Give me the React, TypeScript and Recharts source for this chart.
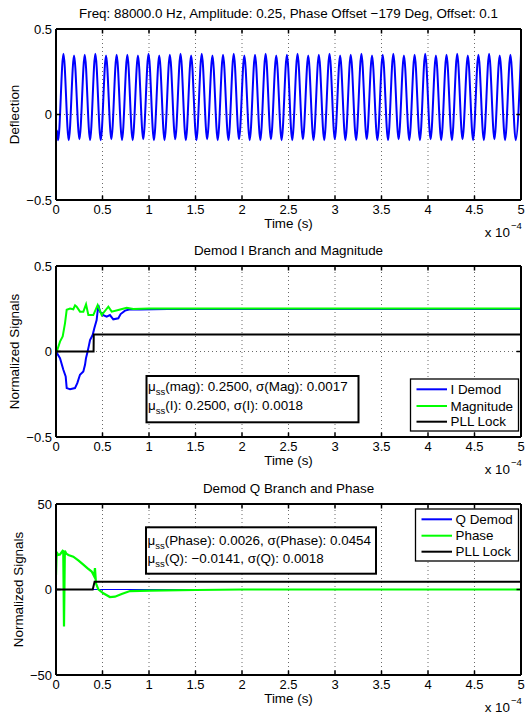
import React from 'react';
import { LineChart, Line, XAxis, YAxis, ReferenceLine } from 'recharts';

const FONT = '"Liberation Sans", Arial, Helvetica, sans-serif';

// ---------- ticks ----------
const timeTicks = [0, 0.5, 1, 1.5, 2, 2.5, 3, 3.5, 4, 4.5, 5];
const timeTickLabels = ['0', '0.5', '1', '1.5', '2', '2.5', '3', '3.5', '4', '4.5', '5'];
const deflectionTicks = [-0.5, 0, 0.5];
const deflectionTickLabels = ['\u22120.5', '0', '0.5'];
const iBranchTicks = [-0.5, 0, 0.5];
const iBranchTickLabels = ['\u22120.5', '0', '0.5'];
const qBranchTicks = [-50, 0, 50];
const qBranchTickLabels = ['\u221250', '0', '50'];

// ---------- texts ----------
const titles = [
  'Freq: 88000.0 Hz,  Amplitude: 0.25, Phase Offset \u2212179 Deg, Offset: 0.1',
  'Demod I Branch and Magnitude',
  'Demod Q Branch and Phase',
];
const yLabels = ['Deflection', 'Normalized Signals', 'Normalized Signals'];
const xLabel = 'Time (s)';
const iLegendNames = ['I Demod', 'Magnitude', 'PLL Lock'];
const qLegendNames = ['Q Demod', 'Phase', 'PLL Lock'];
const iStatsLines = [
  ['(mag): 0.2500, \u03c3(Mag): 0.0017'],
  ['(I): 0.2500, \u03c3(I): 0.0018'],
];
const qStatsLines = [
  ['(Phase): 0.0026, \u03c3(Phase): 0.0454'],
  ['(Q): \u22120.0141, \u03c3(Q): 0.0018'],
];

// ---------- data (time in units of 1e-4 s) ----------
const deflectionT = [
  0, 0.012, 0.023, 0.080, 0.137, 0.194, 0.252, 0.309, 0.366, 0.423, 0.481, 0.538, 0.595, 0.652, 0.710, 0.767,
  0.824, 0.881, 0.938, 0.995, 1.053, 1.110, 1.167, 1.224, 1.282, 1.339, 1.396, 1.453, 1.510, 1.567, 1.625,
  1.682, 1.739, 1.796, 1.854, 1.911, 1.968, 2.025, 2.083, 2.140, 2.197, 2.254, 2.311, 2.368, 2.426, 2.483,
  2.540, 2.597, 2.655, 2.712, 2.769, 2.826, 2.884, 2.941, 2.998, 3.055, 3.112, 3.169, 3.227, 3.284, 3.341,
  3.398, 3.456, 3.513, 3.570, 3.627, 3.684, 3.741, 3.799, 3.856, 3.913, 3.970, 4.028, 4.085, 4.142, 4.199,
  4.257, 4.314, 4.371, 4.428, 4.485, 4.542, 4.600, 4.657, 4.714, 4.771, 4.829, 4.886, 4.943, 5.000,
];
const deflectionV = [
  -0.09, -0.1, -0.15, 0.355, -0.15, 0.345, -0.145, 0.35, -0.15, 0.355, -0.15, 0.345, -0.145, 0.35, -0.15, 0.35,
  -0.15, 0.345, -0.145, 0.355, -0.15, 0.345, -0.15, 0.35, -0.145, 0.355, -0.15, 0.345, -0.15, 0.355, -0.145,
  0.345, -0.15, 0.35, -0.15, 0.355, -0.145, 0.345, -0.15, 0.35, -0.15, 0.355, -0.145, 0.345, -0.15, 0.35,
  -0.15, 0.355, -0.145, 0.345, -0.15, 0.35, -0.15, 0.355, -0.145, 0.345, -0.15, 0.35, -0.15, 0.355, -0.145,
  0.345, -0.15, 0.35, -0.15, 0.355, -0.145, 0.345, -0.15, 0.35, -0.15, 0.355, -0.145, 0.345, -0.15, 0.35,
  -0.15, 0.355, -0.145, 0.345, -0.15, 0.35, -0.15, 0.355, -0.145, 0.345, -0.15, 0.35, -0.15, 0.355,
];

const iDemodT = [0, 0.043, 0.079, 0.104, 0.115, 0.151, 0.204, 0.229, 0.258, 0.294, 0.312, 0.322, 0.34, 0.352, 0.366, 0.394, 0.412, 0.437, 0.455, 0.473, 0.509, 0.545, 0.58, 0.616, 0.67, 0.695, 0.742, 0.796, 0.9, 1.2, 5];
const iDemodV = [0, -0.039, -0.107, -0.146, -0.214, -0.22, -0.214, -0.185, -0.136, -0.117, -0.078, -0.04, 0.0, 0.03, 0.067, 0.096, 0.136, 0.184, 0.272, 0.233, 0.213, 0.204, 0.213, 0.188, 0.194, 0.219, 0.239, 0.247, 0.246, 0.248, 0.248];

const magnitudeT = [0, 0.014, 0.043, 0.072, 0.097, 0.115, 0.151, 0.186, 0.205, 0.222, 0.258, 0.294, 0.323, 0.348, 0.401, 0.448, 0.491, 0.563, 0.599, 0.67, 0.76, 0.831, 1.0, 5];
const magnitudeV = [0, 0.009, 0.058, 0.088, 0.166, 0.244, 0.251, 0.247, 0.27, 0.262, 0.233, 0.233, 0.276, 0.213, 0.213, 0.272, 0.213, 0.262, 0.233, 0.243, 0.256, 0.248, 0.252, 0.252];

const pllLockIT = [0, 0.404, 0.406, 5];
const pllLockIV = [0, 0, 0.1, 0.1];

const qDemodT = [0, 5];
const qDemodV = [0, 0];

const phaseT = [0, 0.007, 0.022, 0.043, 0.072, 0.078, 0.086, 0.095, 0.11, 0.133, 0.186, 0.24, 0.294, 0.337, 0.384, 0.409, 0.419, 0.43, 0.455, 0.509, 0.58, 0.634, 0.706, 0.796, 1.01, 1.5, 2.0, 5];
const phaseV = [8.5, 22, 20.2, 20.5, 22.7, 22.5, -21.7, 22.7, 21, 20.2, 19.2, 17, 14.5, 12.5, 10.5, 7.9, 12.5, 3.6, 0.1, -2.2, -4.4, -4.2, -2.6, -0.9, -0.6, -0.3, 0, 0];

const pllLockQT = [0, 0.395, 0.415, 5];
const pllLockQV = [0, 0, 4.6, 4.6];

const zip = (ts: number[], vs: number[]) => ts.map((t, i) => ({ t, v: vs[i] }));

// ---------- layout ----------
const W = 526;
const PLOT_LEFT = 56;
const PLOT_RIGHT = 521;
const PLOT_W = PLOT_RIGHT - PLOT_LEFT;
const PLOT_H = 171;
const MARGIN_TOP = 29;
const CHART_H = 236;
const chartTops = [0, 237, 475];
const BLUE = '#0000ff';
const GREEN = '#00ff00';
const BLACK = '#000000';

type Series = { name: string; color: string; width?: number; data: { t: number; v: number }[] };

function Subplot({ top, yTicks, yTickLabels, series, curve }: { top: number; yTicks: number[]; yTickLabels: string[]; series: Series[]; curve: 'monotone' | 'linear' }) {
  const yMin = yTicks[0];
  const yMax = yTicks[yTicks.length - 1];
  const tMin = timeTicks[0];
  const tMax = timeTicks[timeTicks.length - 1];
  const tickLenY = ((yMax - yMin) * 4.5) / PLOT_H;
  const tickLenX = ((tMax - tMin) * 4.5) / PLOT_W;
  const innerT = timeTicks.slice(1, -1);
  const innerY = yTicks.slice(1, -1);
  const tickStyle = { fill: '#000', fontSize: 13, fontFamily: FONT };
  return (
    <div style={{ position: 'absolute', left: 0, top, width: W, height: CHART_H }}>
      <LineChart width={W} height={CHART_H} margin={{ top: MARGIN_TOP, right: W - PLOT_RIGHT, bottom: 0, left: 0 }}>
        <XAxis
          dataKey="t"
          type="number"
          domain={[tMin, tMax]}
          ticks={timeTicks}
          allowDataOverflow
          interval={0}
          height={CHART_H - MARGIN_TOP - PLOT_H}
          tickLine={false}
          tickSize={0}
          tickMargin={5}
          axisLine={{ stroke: '#000', strokeWidth: 2 }}
          tick={tickStyle}
          tickFormatter={(v: number) => timeTickLabels[timeTicks.indexOf(v)]}
        />
        <YAxis
          type="number"
          domain={[yMin, yMax]}
          ticks={yTicks}
          allowDataOverflow
          interval={0}
          width={PLOT_LEFT}
          tickLine={false}
          tickSize={0}
          tickMargin={4}
          axisLine={{ stroke: '#000', strokeWidth: 2 }}
          tick={tickStyle}
          tickFormatter={(v: number) => yTickLabels[yTicks.indexOf(v)]}
        />
        {innerT.map((x) => (
          <ReferenceLine key={'gx' + x} x={x} stroke="#6a6a6a" strokeWidth={1} strokeDasharray="1 3" />
        ))}
        {innerY.map((y) => (
          <ReferenceLine key={'gy' + y} y={y} stroke="#6a6a6a" strokeWidth={1} strokeDasharray="1 3" />
        ))}
        {series.map((s) => (
          <Line key={s.name} data={s.data} dataKey="v" name={s.name} stroke={s.color} strokeWidth={s.width ?? 2} dot={false} activeDot={false} isAnimationActive={false} type={curve} />
        ))}
        <ReferenceLine x={tMax} stroke="#000" strokeWidth={2} />
        <ReferenceLine y={yMax} stroke="#000" strokeWidth={2} />
        {innerT.map((x) => (
          <ReferenceLine key={'tb' + x} segment={[{ x, y: yMin }, { x, y: yMin + tickLenY }]} stroke="#000" strokeWidth={1.5} />
        ))}
        {innerT.map((x) => (
          <ReferenceLine key={'tt' + x} segment={[{ x, y: yMax }, { x, y: yMax - tickLenY }]} stroke="#000" strokeWidth={1.5} />
        ))}
        {innerY.map((y) => (
          <ReferenceLine key={'tl' + y} segment={[{ x: tMin, y }, { x: tMin + tickLenX, y }]} stroke="#000" strokeWidth={1.5} />
        ))}
        {innerY.map((y) => (
          <ReferenceLine key={'tr' + y} segment={[{ x: tMax, y }, { x: tMax - tickLenX, y }]} stroke="#000" strokeWidth={1.5} />
        ))}
      </LineChart>
    </div>
  );
}

const FS = 13.4;
const BASE = 4.7; // baseline offset from visual centre

function Legend({ x, y, w, h, rows, names, colors }: { x: number; y: number; w: number; h: number; rows: number[]; names: string[]; colors: string[] }) {
  return (
    <g>
      <rect x={x} y={y} width={w} height={h} fill="#fff" stroke="#000" strokeWidth={1.3} />
      {names.map((n, i) => (
        <g key={n + i}>
          <line x1={x + 6} x2={x + 36.5} y1={y + rows[i]} y2={y + rows[i]} stroke={colors[i]} strokeWidth={2} />
          <text x={x + 40} y={y + rows[i] + BASE} fontSize={FS} fontFamily={FONT} fill="#000">{n}</text>
        </g>
      ))}
    </g>
  );
}

function StatsBox({ x, y, w, h, rows, lines }: { x: number; y: number; w: number; h: number; rows: number[]; lines: string[][] }) {
  return (
    <g>
      <rect x={x} y={y} width={w} height={h} fill="#fff" stroke="#000" strokeWidth={2} />
      {lines.map((l, i) => (
        <text key={i} x={x + 1.5} y={y + rows[i] + BASE} fontSize={FS} fontFamily={FONT} fill="#000">
          {'\u03bc'}
          <tspan fontSize={9.5} dy={4}>ss</tspan>
          <tspan dy={-4}>{l[0]}</tspan>
        </text>
      ))}
    </g>
  );
}

export default function App() {
  const plotTops = chartTops.map((t) => t + MARGIN_TOP);
  const yLabelX = [14, 14.5, 18];
  const cx = (PLOT_LEFT + PLOT_RIGHT) / 2;
  return (
    <div style={{ position: 'absolute', left: 0, top: 0, width: W, height: 715, background: '#fff', overflow: 'hidden' }}>
      <Subplot
        top={chartTops[0]}
        yTicks={deflectionTicks}
        yTickLabels={deflectionTickLabels}
        curve="monotone"
        series={[{ name: 'Deflection', color: BLUE, data: zip(deflectionT, deflectionV) }]}
      />
      <Subplot
        top={chartTops[1]}
        yTicks={iBranchTicks}
        yTickLabels={iBranchTickLabels}
        curve="linear"
        series={[
          { name: iLegendNames[0], color: BLUE, data: zip(iDemodT, iDemodV) },
          { name: iLegendNames[1], color: GREEN, data: zip(magnitudeT, magnitudeV) },
          { name: iLegendNames[2], color: BLACK, data: zip(pllLockIT, pllLockIV) },
        ]}
      />
      <Subplot
        top={chartTops[2]}
        yTicks={qBranchTicks}
        yTickLabels={qBranchTickLabels}
        curve="linear"
        series={[
          { name: qLegendNames[0], color: BLUE, width: 1.2, data: zip(qDemodT, qDemodV) },
          { name: qLegendNames[1], color: GREEN, width: 2.2, data: zip(phaseT, phaseV) },
          { name: qLegendNames[2], color: BLACK, data: zip(pllLockQT, pllLockQV) },
        ]}
      />
      <svg width={W} height={715} style={{ position: 'absolute', left: 0, top: 0, pointerEvents: 'none' }}>
        {plotTops.map((pt, i) => {
          const pb = pt + PLOT_H;
          const cy = pt + PLOT_H / 2;
          const lx = yLabelX[i] + BASE;
          return (
            <g key={i}>
              <text x={cx} y={pt - 15.3 + BASE} textAnchor="middle" fontSize={FS} fontFamily={FONT} fill="#000">{titles[i]}</text>
              <text x={lx} y={cy} textAnchor="middle" transform={`rotate(-90, ${lx}, ${cy})`} fontSize={FS} fontFamily={FONT} fill="#000">{yLabels[i]}</text>
              <text x={cx} y={pb + 23 + BASE} textAnchor="middle" fontSize={FS} fontFamily={FONT} fill="#000">{xLabel}</text>
              <text x={510} y={pb + 32.5 + BASE} textAnchor="end" fontSize={FS} fontFamily={FONT} fill="#000">x 10</text>
              <text x={511} y={pb + 26 + 3.3} textAnchor="start" fontSize={9.5} fontFamily={FONT} fill="#000">{'\u22124'}</text>
            </g>
          );
        })}
        <StatsBox x={146.5} y={plotTops[1] + 110} w={212} h={46.3} rows={[10.7, 29.7]} lines={iStatsLines} />
        <Legend x={410.5} y={plotTops[1] + 113} w={108} h={52} rows={[10.3, 27, 42.7]} names={iLegendNames} colors={[BLUE, GREEN, BLACK]} />
        <StatsBox x={146} y={plotTops[2] + 23.3} w={230} h={46.4} rows={[12.7, 31]} lines={qStatsLines} />
        <Legend x={415.5} y={plotTops[2] + 5} w={103} h={52} rows={[10.3, 26.7, 42.7]} names={qLegendNames} colors={[BLUE, GREEN, BLACK]} />
      </svg>
    </div>
  );
}
